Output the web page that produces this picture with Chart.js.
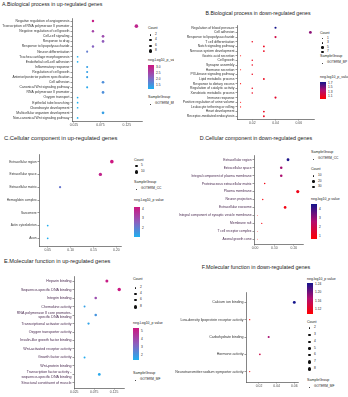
<!DOCTYPE html>
<html lang="en">
<head>
<meta charset="UTF-8">
<title>GO enrichment dot plots</title>
<script src="https://cdn.jsdelivr.net/npm/chart.js"></script>
<style>
  body { margin:0; background:#fff; font-family:"Liberation Sans", Arial, sans-serif; }
  #page { position:relative; width:348px; height:397px; overflow:hidden; }
  .txt { position:absolute; white-space:nowrap; line-height:1; transform:translateY(-50%); color:#222; }
  .dot { position:absolute; border-radius:50%; background:#111; }
</style>
</head>
<body>
<div id="page"></div>
<script>
Chart.defaults.font.family = '"Liberation Sans", Arial, sans-serif';

// A. Biological process, up-regulated
const bpUpTerms = ['Negative regulation of angiogenesis','Transcription of RNA polymerase II promoter','Negative regulation of cell growth','Cell-cell signaling','Response to drug','Response to lipopolysaccharide','Neuron differentiation','Trachea cartilage morphogenesis','Endothelial cell-cell adhesion','Inflammatory response','Regulation of cell growth','Anterior/posterior pattern specification','Cell adhesion','Canonical Wnt signaling pathway','RNA polymerase II promoter','Oxygen transport','Epithelial tube branching','Chondrocyte development','Multicellular organism development','Non-canonical Wnt signaling pathway'];
const bpUpRatio = [0.061,0.143,0.061,0.080,0.080,0.061,0.050,0.032,0.032,0.050,0.050,0.050,0.080,0.050,0.080,0.032,0.032,0.032,0.080,0.032];
const bpUpCount = [4,9,4,5,5,4,3,2,2,3,3,3,5,3,5,2,2,2,5,2];
const bpUpLogP = [3.1,3.0,2.6,2.5,2.3,2.2,1.9,1.3,1.3,1.5,1.5,1.5,1.7,1.4,1.7,1.3,1.3,1.3,1.5,1.3];

// B. Biological process, down-regulated
const bpDownTerms = ['Regulation of blood pressure','Cell adhesion','Response to lipopolysaccharide','T cell differentiation','Notch signaling pathway','Nervous system development','Gastric acid secretion','Cell growth','Synapse assembly','Hormone secretion','PI3-kinase signaling pathway','Lipid metabolic process','Response to dietary excess','Regulation of catalytic activity','Xenobiotic metabolic process','Immune response','Positive regulation of urine volume','Leukocyte tethering or rolling','Heart development','Receptor-mediated endocytosis'];
const bpDownRatio = [0.04,0.07,0.04,0.02,0.03,0.03,0.01,0.02,0.02,0.01,0.02,0.03,0.01,0.02,0.02,0.04,0.01,0.01,0.03,0.03];
const bpDownCount = [4,7,4,2,3,3,1,2,2,1,2,3,1,2,2,4,1,1,3,3];
const bpDownLogP = [1.8,1.5,1.25,1.1,1.1,1.1,1.0,1.1,1.1,1.0,1.1,1.1,1.0,1.1,1.1,1.15,1.0,1.0,1.1,1.1];

// C. Cellular component, up-regulated
const ccUpTerms = ['Extracellular region','Extracellular space','Extracellular matrix','Hemoglobin complex','Sarcomere','Actin cytoskeleton','Axon'];
const ccUpRatio = [0.19,0.165,0.077,null,null,0.05,0.05];
const ccUpCount = [13,11,5,null,null,3,3];
const ccUpLogP = [4.3,4.0,2.2,null,null,1.15,1.15];

// D. Cellular component, down-regulated
const ccDownTerms = ['Extracellular region','Extracellular space','Integral component of plasma membrane','Proteinaceous extracellular matrix','Plasma membrane','Neuron projection','Extracellular exosome','Integral component of synaptic vesicle membrane','Membrane raft','T cell receptor complex','Axonal growth cone'];
const ccDownRatio = [0.17,0.135,0.135,0.05,0.22,0.04,0.155,0.012,0.035,0.012,0.012];
const ccDownCount = [27,22,22,8,35,6,25,2,6,2,2];
const ccDownLogP = [4.5,2.9,2.8,1.1,1.2,1.0,1.1,0.9,1.0,0.9,0.9];

// E. Molecular function, up-regulated
const mfUpTerms = ['Heparin binding','Sequence-specific DNA binding','Integrin binding','Chemokine activity',['RNA polymerase II core promoter-','specific DNA binding'],'Transcriptional activator activity','Oxygen transporter activity','Insulin-like growth factor binding','Wnt-activated receptor activity','Growth factor activity','Wnt-protein binding',['Transcription factor activity -','sequence-specific DNA binding'],'Structural constituent of muscle'];
const mfUpRatio = [0.107,0.138,0.079,0.051,0.079,0.061,null,null,null,0.051,null,0.088,null];
const mfUpCount = [7,9,5,3,5,4,null,null,null,3,null,6,null];
const mfUpLogP = [5.3,5.4,4.0,1.9,2.2,1.8,null,null,null,1.6,null,1.7,null];

// F. Molecular function, down-regulated
const mfDownTerms = ['Calcium ion binding','Low-density lipoprotein receptor activity','Carbohydrate binding','Hormone activity','Neurotransmitter:sodium symporter activity'];
const mfDownRatio = [0.06,0.0095,0.031,0.021,0.0095];
const mfDownCount = [6,1,3,2,1];
const mfDownLogP = [1.25,1.10,1.18,1.15,1.10];

const upStops = [[30,176,240],[140,95,190],[205,22,128]];
const downStops = [[255,0,0],[180,14,110],[20,20,140]];

function mix(stops, t) {
  t = Math.max(0, Math.min(1, t));
  const seg = t * (stops.length - 1);
  const i = Math.min(stops.length - 2, Math.floor(seg));
  const f = seg - i;
  const c = stops[i].map((v, j) => Math.round(v + (stops[i + 1][j] - v) * f));
  return `rgb(${c[0]},${c[1]},${c[2]})`;
}

const page = document.getElementById('page');
function mkCol(x) {
  const d = document.createElement('div');
  d.style.cssText = `position:absolute;left:${x}px;top:0;width:174px;height:397px;overflow:hidden`;
  page.appendChild(d);
  return { el: d, x: x };
}
const colL = mkCol(0), colR = mkCol(174);

function text(col, x, y, s, size, align) {
  const e = document.createElement('div');
  e.className = 'txt';
  e.textContent = s;
  e.style.fontSize = size + 'px';
  e.style.top = y + 'px';
  e.style.left = (x - col.x) + 'px';
  if (align === 'center') e.style.transform = 'translate(-50%,-50%)';
  col.el.appendChild(e);
}
function dot(col, x, y, r, color) {
  const e = document.createElement('div');
  e.className = 'dot';
  e.style.cssText += `left:${x - col.x - r}px;top:${y - r}px;width:${2 * r}px;height:${2 * r}px;background:${color || '#111'}`;
  col.el.appendChild(e);
}

function panel(cfg) {
  const col = cfg.col;
  const w = cfg.right - cfg.left + cfg.yW, h = cfg.bottom - cfg.top + cfg.xH;
  const wrap = document.createElement('div');
  wrap.style.cssText = `position:absolute;left:${cfg.left - cfg.yW - col.x}px;top:${cfg.top}px;width:${w}px;height:${h}px`;
  const cv = document.createElement('canvas');
  wrap.appendChild(cv);
  col.el.appendChild(wrap);

  const pts = [], colors = [];
  cfg.terms.forEach((t, i) => {
    if (cfg.ratio[i] == null) return;
    pts.push({ x: cfg.ratio[i], y: i, r: cfg.k * Math.sqrt(cfg.count[i]) });
    colors.push(mix(cfg.stops, (cfg.logp[i] - cfg.cmin) / (cfg.cmax - cfg.cmin)));
  });
  const axisLine = { color: '#333', width: 0.6 };
  const tickGrid = { drawOnChartArea: false, tickLength: 1.5, color: '#333', lineWidth: 0.5 };

  new Chart(cv, {
    type: 'bubble',
    data: { datasets: [{ data: pts, backgroundColor: colors, borderWidth: 0 }] },
    options: {
      responsive: true, maintainAspectRatio: false, animation: false,
      layout: { padding: 0 },
      plugins: { legend: { display: false }, tooltip: { enabled: false } },
      scales: {
        x: {
          type: 'linear', min: cfg.xmin, max: cfg.xmax,
          afterBuildTicks: s => { s.ticks = cfg.xTicks.map(v => ({ value: v })); },
          afterFit: s => { s.height = cfg.xH; },
          ticks: { font: { size: 3.4 }, color: '#4d4d4d', padding: 1, maxRotation: 0, autoSkip: false,
                   callback: v => v.toFixed(cfg.dec) },
          grid: tickGrid, border: axisLine
        },
        y: {
          type: 'linear', reverse: true, min: -0.6, max: cfg.terms.length - 0.4,
          afterBuildTicks: s => { s.ticks = cfg.terms.map((t, i) => ({ value: i })); },
          afterFit: s => { s.width = cfg.yW; },
          ticks: { font: { size: cfg.fs }, color: cfg.labelColor, padding: 1, autoSkip: false,
                   callback: v => cfg.terms[v] },
          grid: tickGrid, border: axisLine
        }
      }
    }
  });
}

// labels are strings so "3.0" and "1.20" keep their trailing zero
function colorLegend(col, x, y, title, barTop, barH, stops, cmin, cmax, labels) {
  text(col, x, y, title, 3.5);
  const bar = document.createElement('div');
  bar.style.cssText = `position:absolute;left:${x - col.x}px;top:${barTop}px;width:6px;height:${barH}px;` +
    `background:linear-gradient(to top,${mix(stops, 0)},${mix(stops, 0.5)},${mix(stops, 1)})`;
  col.el.appendChild(bar);
  labels.forEach(s => {
    const ly = barTop + (1 - (parseFloat(s) - cmin) / (cmax - cmin)) * barH;
    text(col, x + 8, ly, s, 3.2);
  });
}
function countLegend(col, x, y, values, ys, k) {
  text(col, x, y, 'Count', 3.6);
  values.forEach((v, i) => {
    dot(col, x + 2.5, ys[i], k * Math.sqrt(v));
    text(col, x + 7, ys[i], String(v), 3.2);
  });
}
function groupLegend(col, x, y, name) {
  text(col, x, y, 'SampleGroup', 3.6);
  dot(col, x + 2.5, y + 6, 0.5);
  text(col, x + 7, y + 6, name, 3.2);
}

// titles
text(colL, 2, 5, 'A.Biological process in up-regulated genes', 5.3);
text(colR, 258, 14, 'B.Biological process in down-regulated genes', 5.2, 'center');
text(colL, 4, 139, 'C.Cellular component in up-regulated genes', 5.8);
text(colR, 256, 139, 'D.Cellular component in down-regulated genes', 5.4, 'center');
text(colL, 4, 262, 'E.Molecular function in up-regulated genes', 5.6);
text(colR, 256, 268, 'F.Molecular function in down-regulated genes', 5.4, 'center');

panel({ col: colL, terms: bpUpTerms, ratio: bpUpRatio, count: bpUpCount, logp: bpUpLogP,
  left: 72, right: 146, top: 14, bottom: 121, yW: 72, xH: 8, fs: 3.4, labelColor: '#333',
  xmin: 0.0214, xmax: 0.1536, xTicks: [0.025, 0.075, 0.125], dec: 3,
  k: 0.6, stops: upStops, cmin: 1.3, cmax: 3.2 });
countLegend(colL, 148, 29, [2, 4, 6, 8], [35, 40, 46, 51], 0.6);
colorLegend(colL, 148, 61, 'neg.Log10_p_value', 65, 24, upStops, 1.3, 3.2, ['3.0', '2.5', '2.0', '1.5']);
groupLegend(colL, 148, 98, 'GOTERM_BP');

panel({ col: colR, terms: bpDownTerms, ratio: bpDownRatio, count: bpDownCount, logp: bpDownLogP,
  left: 237, right: 318, top: 21, bottom: 119, yW: 63, xH: 8, fs: 3.4, labelColor: '#333',
  xmin: 0.0069, xmax: 0.0731, xTicks: [0.02, 0.04, 0.06], dec: 2,
  k: 0.53, stops: downStops, cmin: 1.0, cmax: 1.8 });
countLegend(colR, 320, 34, [1, 3, 5, 7], [38.5, 43, 47.5, 52], 0.53);
groupLegend(colR, 320, 57, 'GOTERM_BP');
colorLegend(colR, 320, 78, 'neg.log10_p_value', 82, 17, downStops, 1.0, 1.8, ['1.7', '1.5', '1.3', '1.1']);

panel({ col: colL, terms: ccUpTerms, ratio: ccUpRatio, count: ccUpCount, logp: ccUpLogP,
  left: 39, right: 125, top: 150, bottom: 246, yW: 39, xH: 8, fs: 3.2, labelColor: '#333',
  xmin: 0.031, xmax: 0.21, xTicks: [0.05, 0.10, 0.15, 0.20], dec: 2,
  k: 0.5, stops: upStops, cmin: 1.1, cmax: 4.3 });
countLegend(colL, 134, 161, [5, 10], [166, 172], 0.5);
groupLegend(colL, 134, 183, 'GOTERM_CC');
colorLegend(colL, 134, 201, 'neg.Log10_p value', 207, 30, upStops, 1.1, 4.3, ['4', '3', '2']);

panel({ col: colR, terms: ccDownTerms, ratio: ccDownRatio, count: ccDownCount, logp: ccDownLogP,
  left: 254, right: 307, top: 151, bottom: 244, yW: 80, xH: 8, fs: 3.3, labelColor: '#4a2a50',
  xmin: -0.005, xmax: 0.247, xTicks: [0.00, 0.10, 0.20], dec: 2,
  k: 0.27, stops: downStops, cmin: 0.8, cmax: 4.6 });
groupLegend(colR, 311, 153, 'GOTERM_CC');
countLegend(colR, 311, 170, [10, 20, 30], [176, 181.5, 187], 0.27);
colorLegend(colR, 311, 200, 'neg.log10_p value', 204, 35, downStops, 0.8, 4.6, ['4', '3', '2', '1']);

panel({ col: colL, terms: mfUpTerms, ratio: mfUpRatio, count: mfUpCount, logp: mfUpLogP,
  left: 74, right: 128, top: 272, bottom: 388, yW: 74, xH: 9, fs: 3.6, labelColor: '#4a2a50',
  xmin: 0.0245, xmax: 0.150, xTicks: [0.025, 0.075, 0.125], dec: 3,
  k: 0.57, stops: upStops, cmin: 1.5, cmax: 5.5 });
countLegend(colL, 133, 280, [2, 4, 6, 8], [288, 294, 300, 307], 0.57);
colorLegend(colL, 133, 324, 'neg.Log10_p value', 328, 32, upStops, 1.5, 5.5, ['5', '4', '3', '2']);
groupLegend(colL, 133, 374, 'GOTERM_MF');

panel({ col: colR, terms: mfDownTerms, ratio: mfDownRatio, count: mfDownCount, logp: mfDownLogP,
  left: 246, right: 302, top: 288, bottom: 382, yW: 72, xH: 9, fs: 3.6, labelColor: '#333',
  xmin: 0.0053, xmax: 0.0642, xTicks: [0.02, 0.04, 0.06], dec: 2,
  k: 0.6, stops: downStops, cmin: 1.10, cmax: 1.25 });
colorLegend(colR, 307, 280, 'neg.log10_p value', 283, 31, downStops, 1.10, 1.25, ['1.24', '1.20', '1.16', '1.12']);
countLegend(colR, 307, 323, [2, 3, 4, 5, 6, 7, 8], [328, 335, 342, 348.5, 355, 362, 369], 0.6);
groupLegend(colR, 307, 381, 'GOTERM_MF');
</script>
</body>
</html>
